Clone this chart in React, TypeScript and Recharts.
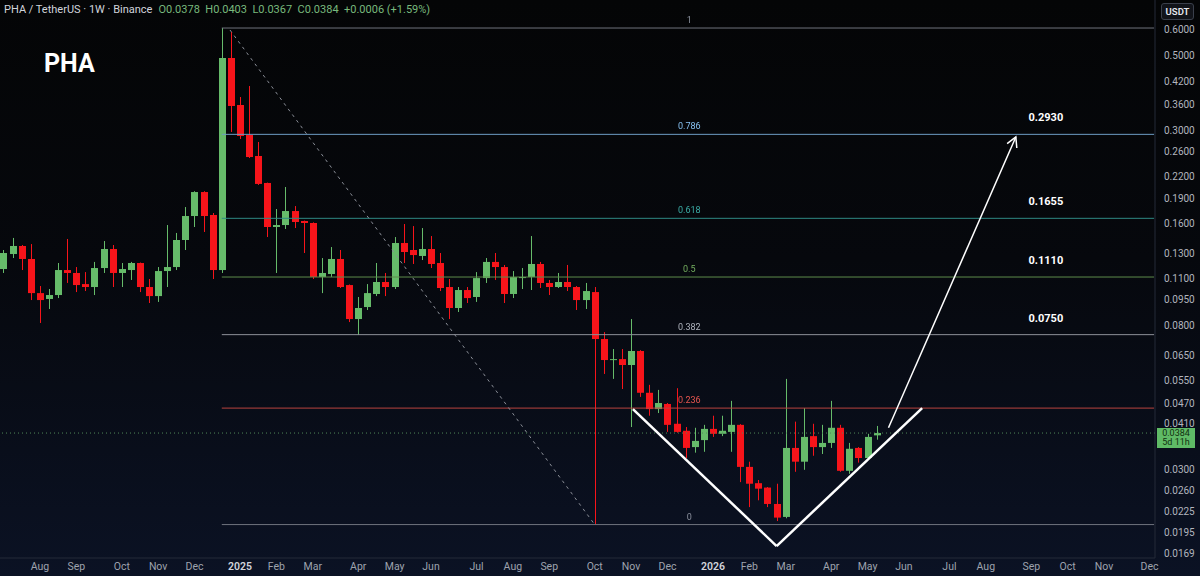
import React from 'react'
import { ComposedChart, Bar, XAxis, YAxis, ReferenceLine, ReferenceDot } from 'recharts'

// weekly candles, first bar = week of 2024-07-08
const startDate = Date.UTC(2024, 6, 8)

const opens = [
  0.1172, 0.1298, 0.1371, 0.1255, 0.0995, 0.0956, 0.0982, 0.1164, 0.1141, 0.1058,
  0.1037, 0.1180, 0.1343, 0.1141, 0.1164, 0.1221, 0.1037, 0.0975, 0.1156, 0.1188,
  0.1428, 0.1681, 0.1979, 0.1693, 0.1164, 0.4926, 0.3578, 0.2917, 0.2529, 0.2105,
  0.1560, 0.1581, 0.1739, 0.1625, 0.1603, 0.1110, 0.1133, 0.1255, 0.1051, 0.0834,
  0.0905, 0.0989, 0.1073, 0.1037, 0.1399, 0.1334, 0.1281, 0.1343, 0.1221, 0.1037,
  0.0899, 0.1016, 0.0969, 0.1102, 0.1230, 0.1188, 0.0989, 0.1102, 0.1110, 0.1213,
  0.1066, 0.1037, 0.1073, 0.1037, 0.0949, 0.1002, 0.0728, 0.0631, 0.0635, 0.0610,
  0.0671, 0.0505, 0.0452, 0.0468, 0.0409, 0.0390, 0.0349, 0.0366, 0.0395, 0.0382,
  0.0387, 0.0406, 0.0305, 0.0273, 0.0265, 0.0237, 0.0217, 0.0347, 0.0316, 0.0376,
  0.0349, 0.0359, 0.0398, 0.0297, 0.0347, 0.0324, 0.0378,
]
const highs = [
  0.1334, 0.1448, 0.1380, 0.1389, 0.1044, 0.1023, 0.1221, 0.1438, 0.1188, 0.1148,
  0.1230, 0.1418, 0.1380, 0.1221, 0.1230, 0.1225, 0.1095, 0.1188, 0.1581, 0.1498,
  0.1787, 0.1990, 0.1990, 0.1716, 0.6041, 0.5879, 0.3778, 0.4071, 0.2782, 0.2110,
  0.1763, 0.2048, 0.1799, 0.1630, 0.1610, 0.1263, 0.1361, 0.1334, 0.1055, 0.0969,
  0.1058, 0.1221, 0.1141, 0.1457, 0.1592, 0.1570, 0.1549, 0.1467, 0.1307, 0.1095,
  0.1037, 0.1037, 0.1148, 0.1263, 0.1307, 0.1205, 0.1156, 0.1180, 0.1467, 0.1230,
  0.1088, 0.1141, 0.1205, 0.1044, 0.1066, 0.1037, 0.0763, 0.0680, 0.0680, 0.0834,
  0.0675, 0.0533, 0.0515, 0.0471, 0.0521, 0.0400, 0.0398, 0.0406, 0.0432, 0.0432,
  0.0478, 0.0408, 0.0316, 0.0279, 0.0266, 0.0272, 0.0555, 0.0415, 0.0455, 0.0409,
  0.0406, 0.0478, 0.0406, 0.0359, 0.0349, 0.0382, 0.0403,
]
const lows = [
  0.1141, 0.1263, 0.1164, 0.0949, 0.0812, 0.0893, 0.0962, 0.1066, 0.1002, 0.1009,
  0.0982, 0.1141, 0.1037, 0.1037, 0.1088, 0.1002, 0.0930, 0.0937, 0.1037, 0.1164,
  0.1334, 0.1560, 0.1508, 0.1095, 0.1141, 0.2978, 0.2839, 0.2494, 0.2077, 0.1457,
  0.1141, 0.1539, 0.1549, 0.1307, 0.1095, 0.0995, 0.1110, 0.1030, 0.0817, 0.0748,
  0.0887, 0.0975, 0.0975, 0.1023, 0.1221, 0.1213, 0.1246, 0.1180, 0.1009, 0.0834,
  0.0875, 0.0930, 0.0937, 0.1066, 0.1088, 0.0930, 0.0962, 0.1023, 0.1016, 0.1030,
  0.0982, 0.1030, 0.1009, 0.0887, 0.0893, 0.0206, 0.0574, 0.0555, 0.0518, 0.0400,
  0.0491, 0.0432, 0.0440, 0.0387, 0.0385, 0.0324, 0.0336, 0.0338, 0.0374, 0.0376,
  0.0338, 0.0275, 0.0232, 0.0243, 0.0232, 0.0211, 0.0215, 0.0295, 0.0299, 0.0329,
  0.0333, 0.0347, 0.0295, 0.0291, 0.0314, 0.0320, 0.0367,
]
const closes = [
  0.1307, 0.1371, 0.1255, 0.0995, 0.0949, 0.0982, 0.1164, 0.1141, 0.1051, 0.1037,
  0.1180, 0.1343, 0.1141, 0.1172, 0.1221, 0.1037, 0.0975, 0.1156, 0.1188, 0.1428,
  0.1681, 0.1979, 0.1681, 0.1164, 0.4926, 0.3554, 0.2898, 0.2511, 0.2091, 0.1560,
  0.1581, 0.1739, 0.1614, 0.1603, 0.1110, 0.1141, 0.1255, 0.1037, 0.0834, 0.0899,
  0.0995, 0.1073, 0.1037, 0.1399, 0.1316, 0.1289, 0.1343, 0.1213, 0.1030, 0.0899,
  0.1016, 0.0962, 0.1102, 0.1230, 0.1188, 0.0989, 0.1110, 0.1110, 0.1213, 0.1066,
  0.1037, 0.1073, 0.1037, 0.0949, 0.1009, 0.0728, 0.0631, 0.0635, 0.0610, 0.0671,
  0.0505, 0.0452, 0.0471, 0.0406, 0.0387, 0.0347, 0.0364, 0.0395, 0.0382, 0.0390,
  0.0406, 0.0305, 0.0272, 0.0263, 0.0237, 0.0216, 0.0347, 0.0316, 0.0374, 0.0349,
  0.0359, 0.0398, 0.0297, 0.0345, 0.0324, 0.0374, 0.0384,
]

const priceTicks = [
  0.6, 0.5, 0.42, 0.36, 0.3, 0.26, 0.22, 0.19, 0.16, 0.13, 0.11, 0.095, 0.08,
  0.065, 0.055, 0.047, 0.041, 0.03, 0.026, 0.0225, 0.0195, 0.0169,
]

const monthNames = ['2024', 'Feb', 'Mar', 'Apr', 'May', 'Jun', 'Jul', 'Aug', 'Sep', 'Oct', 'Nov', 'Dec']

// fib retracement (log) drawn from the Dec 2024 high to the Oct 2025 wick low
const fibLevels = ['1', '0.786', '0.618', '0.5', '0.382', '0.236', '0']
const fibPrices = [0.604, 0.293, 0.1655, 0.111, 0.075, 0.0455, 0.0206]
const fibColors = ['#6f737d', '#6d9cc4', '#2f8a85', '#5d8c4c', '#8d9199', '#b9443f', '#6f737d']
const fibTargets = ['', '0.2930', '0.1655', '0.1110', '0.0750', '', '']

// drawings (bar index, price)
const trendLine = [{ x: 24.9, y: 0.596 }, { x: 65, y: 0.0206 }]
const vPattern = [{ x: 69.2, y: 0.0452 }, { x: 85, y: 0.0178 }, { x: 101, y: 0.0455 }]
const arrowPath = [{ x: 97.3, y: 0.0398 }, { x: 111.3, y: 0.2878 }]

const lastPrice = 0.0384
const GREEN = '#66bb6a'
const RED = '#f7141a'
const WEEK = 7 * 24 * 3600 * 1000

const data = opens.map((open, i) => ({
  i,
  open,
  high: highs[i],
  low: lows[i],
  close: closes[i],
  range: [lows[i], highs[i]],
}))

// first weekly bar of every month Aug 2024 .. Dec 2026
const monthTicks: number[] = []
const monthLabels: string[] = []
for (let y = 2024; y <= 2026; y++) {
  for (let m = 0; m < 12; m++) {
    if (y === 2024 && m < 7) continue
    const idx = Math.ceil((Date.UTC(y, m, 1) - startDate) / WEEK)
    monthTicks.push(idx)
    monthLabels.push(m === 0 ? String(y) : monthNames[m])
  }
}

function Candle(props: any) {
  const { x, y, width, height, payload } = props
  const { open, high, low, close } = payload
  const top = Math.min(y, y + height)
  const span = Math.abs(height)
  const lh = Math.log(high)
  const ll = Math.log(low)
  const toY = (v: number) => top + ((lh - Math.log(v)) / (lh - ll || 1)) * span
  const color = close >= open ? GREEN : RED
  const bTop = toY(Math.max(open, close))
  const bBot = toY(Math.min(open, close))
  const cx = Math.round(x + width / 2) + 0.5
  return (
    <g>
      <line x1={cx} x2={cx} y1={top} y2={top + span} stroke={color} strokeWidth={1} />
      <rect x={cx - width / 2} y={bTop} width={width} height={Math.max(1, bBot - bTop)} fill={color} />
    </g>
  )
}

function XTick(props: any) {
  const { x, y, payload } = props
  const label = monthLabels[monthTicks.indexOf(payload.value)] ?? ''
  const isYear = /^\d{4}$/.test(label)
  return (
    <text x={x} y={y + 4} textAnchor="middle" fontSize={10.5} fontFamily="Roboto, sans-serif"
      fill={isYear ? '#d1d4dc' : '#9ea3ae'} fontWeight={isYear ? 600 : 400}>
      {label}
    </text>
  )
}

function YTick(props: any) {
  const { x, y, payload } = props
  return (
    <text x={x + 1} y={y + 3.5} textAnchor="start" fontSize={10} fontFamily="Roboto, sans-serif" fill="#b2b5be">
      {Number(payload.value).toFixed(4)}
    </text>
  )
}

function Arrow(props: any) {
  const { x1, y1, x2, y2 } = props
  const ang = Math.atan2(y2 - y1, x2 - x1)
  const len = 11
  const a1 = ang + Math.PI - 0.5
  const a2 = ang + Math.PI + 0.5
  return (
    <g>
      <line x1={x1} y1={y1} x2={x2} y2={y2} stroke="#ffffff" strokeWidth={1.5} />
      <polyline
        points={`${x2 + len * Math.cos(a1)},${y2 + len * Math.sin(a1)} ${x2},${y2} ${x2 + len * Math.cos(a2)},${y2 + len * Math.sin(a2)}`}
        fill="none" stroke="#ffffff" strokeWidth={1.5}
      />
    </g>
  )
}

export default function App() {
  const xDomain = [-0.385, 126.6]
  const yDomain = [0.01641, 0.7309]
  return (
    <div style={{
      position: 'relative', width: 1200, height: 576, overflow: 'hidden',
      background: 'linear-gradient(180deg, #040506 0%, #06080d 45%, #0b1224 100%)',
      fontFamily: 'Roboto, sans-serif',
    }}>
      <style>{'body{margin:0;background:#000}'}</style>
      <ComposedChart width={1200} height={576} data={data} margin={{ top: 0, right: 0, bottom: 0, left: 0 }}
        style={{ position: 'absolute', left: 0, top: 0 }}>
        <XAxis dataKey="i" type="number" domain={xDomain} allowDataOverflow ticks={monthTicks} interval={0}
          tick={<XTick />} tickLine={false} axisLine={{ stroke: '#242a38' }} height={18} />
        <YAxis orientation="right" scale="log" domain={yDomain} allowDataOverflow ticks={priceTicks} interval={0}
          tick={<YTick />} tickLine={false} axisLine={{ stroke: '#242a38' }} width={45} />

        {fibPrices.map((p, k) => (
          <ReferenceLine key={'fib' + k} segment={[{ x: 24, y: p }, { x: 126.5, y: p }]}
            stroke={fibColors[k]} strokeWidth={1} />
        ))}
        <ReferenceLine segment={trendLine} stroke="#8a8e97" strokeDasharray="3 4" strokeWidth={1} />
        <ReferenceLine y={lastPrice} stroke="#4f8a58" strokeDasharray="1 3" strokeWidth={1} />

        <Bar dataKey="range" barSize={7} shape={<Candle />} isAnimationActive={false} />

        {fibPrices.map((p, k) => (
          <ReferenceDot key={'fl' + k} x={75.4} y={p} r={0}
            shape={(s: any) => (
              <text x={s.cx} y={s.cy - 5} textAnchor="middle" fontSize={9} fill={fibColors[k]}
                style={{ filter: 'brightness(1.25)' }}>
                {fibLevels[k]}
              </text>
            )} />
        ))}
        {fibPrices.map((p, k) => fibTargets[k] ? (
          <ReferenceDot key={'ft' + k} x={114.6} y={p} r={0}
            shape={(s: any) => (
              <text x={s.cx} y={s.cy - 13} textAnchor="middle" fontSize={11} fontWeight={700} fill="#ffffff">
                {fibTargets[k]}
              </text>
            )} />
        ) : null)}

        <ReferenceLine segment={[vPattern[0], vPattern[1]]} stroke="#ffffff" strokeWidth={2.5} />
        <ReferenceLine segment={[vPattern[1], vPattern[2]]} stroke="#ffffff" strokeWidth={2.5} />
        <ReferenceLine segment={arrowPath} shape={<Arrow />} />
      </ComposedChart>

      <div style={{ position: 'absolute', left: 4, top: 3, fontSize: 11, color: '#d1d4dc', whiteSpace: 'nowrap' }}>
        PHA / TetherUS · 1W · Binance
        <span style={{ color: '#78b97d', marginLeft: 6 }}>
          O0.0378&nbsp; H0.0403&nbsp; L0.0367&nbsp; C0.0384&nbsp; +0.0006 (+1.59%)
        </span>
      </div>
      <div style={{ position: 'absolute', left: 44, top: 49, fontSize: 25, fontWeight: 700, color: '#ffffff' }}>PHA</div>
      <div style={{
        position: 'absolute', left: 1161, top: 3, width: 33, height: 17, boxSizing: 'border-box',
        border: '1px solid #3a3f4b', borderRadius: 3, background: '#111319', color: '#e6e8ee',
        fontSize: 9.5, fontWeight: 600, textAlign: 'center', lineHeight: '15px',
      }}>USDT</div>
      <div style={{
        position: 'absolute', left: 1157, top: 428, width: 38, height: 20, background: '#5fba66',
        color: '#10300f', fontSize: 9, lineHeight: '9.5px', textAlign: 'center', paddingTop: 0.5, boxSizing: 'border-box',
      }}>
        0.0384<br />5d 11h
      </div>
    </div>
  )
}
